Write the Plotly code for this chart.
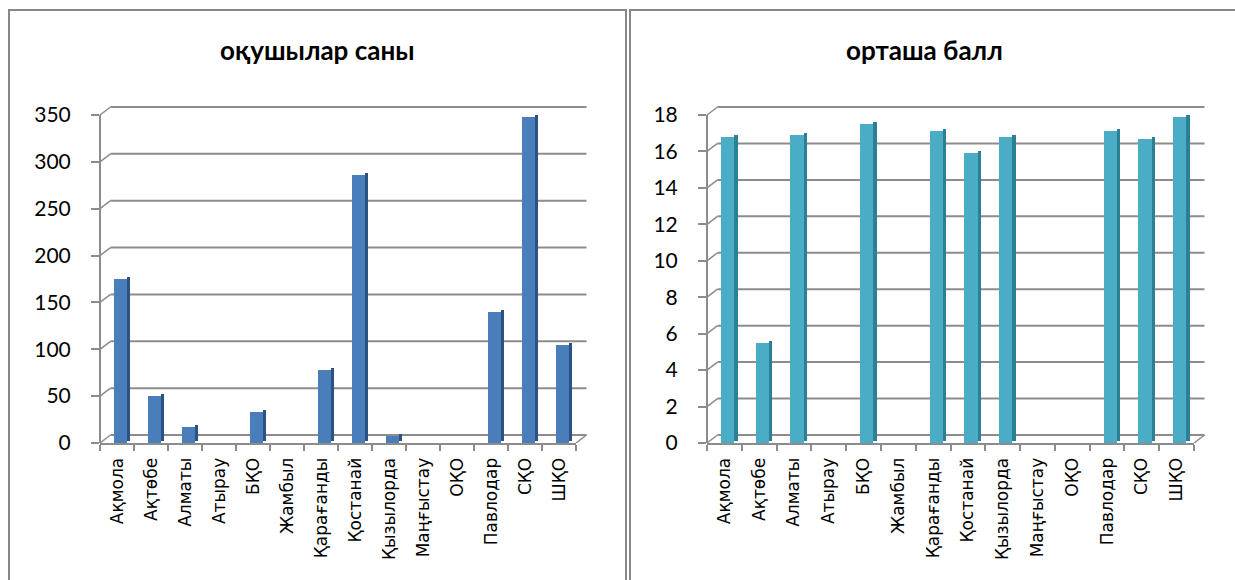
import plotly.graph_objects as go

regions = ["Ақмола", "Ақтөбе", "Алматы", "Атырау", "БҚО", "Жамбыл", "Қарағанды",
           "Қостанай", "Қызылорда", "Маңғыстау", "ОҚО", "Павлодар", "СҚО", "ШҚО"]
students = [175, 50, 17, 0, 33, 0, 78, 286, 8, 0, 0, 140, 348, 105]
avg_score = [16.8, 5.5, 16.9, 0, 17.5, 0, 17.1, 15.9, 16.8, 0, 0, 17.1, 16.7, 17.9]

title_left = "оқушылар саны"
title_right = "орташа балл"
y_ticks_left = [0, 50, 100, 150, 200, 250, 300, 350]
y_ticks_right = [0, 2, 4, 6, 8, 10, 12, 14, 16, 18]

W, H = 1235, 580
def px(x):
    return x / W
def py(y):
    return 1 - y / H

GRID = "#8c8c8c"
LX0, LX1 = 100, 576
RX0, RX1 = 707, 1194
YT, YB = 115, 443      # front plane: top tick / zero
EXTRA = 11             # room above the top tick for the back wall (px)
DEPTH_X, DEPTH_Y = 10.5, 8

fig = go.Figure()
shapes = []

def add_panel(values, ticks, rng, xa, ya, front, side, x0, x1):
    xn, yn = xa, ya
    lift = rng * 0.006
    fig.add_trace(go.Bar(x=regions, y=values, base=[lift if v > 0 else 0 for v in values],
                         width=0.1, offset=0.28, marker=dict(color=side, line=dict(width=0)),
                         xaxis=xa, yaxis=ya, showlegend=False, hoverinfo="skip"))
    fig.add_trace(go.Bar(x=regions, y=values, width=0.38, offset=-0.1,
                         marker=dict(color=front, line=dict(width=0)),
                         xaxis=xa, yaxis=ya, showlegend=False))
    dx = DEPTH_X / (x1 - x0)
    dy = DEPTH_Y / (YB - YT) * rng
    for t in ticks:
        shapes.append(dict(type="line", xref=xn + " domain", yref=yn, x0=dx, x1=1 + dx,
                           y0=t + dy, y1=t + dy, layer="below", line=dict(color=GRID, width=2)))
        shapes.append(dict(type="line", xref=xn + " domain", yref=yn, x0=0, x1=dx,
                           y0=t, y1=t + dy, layer="below", line=dict(color=GRID, width=1.5)))
    shapes.append(dict(type="line", xref=xn + " domain", yref=yn, x0=1, x1=1 + dx,
                       y0=0, y1=dy, layer="below", line=dict(color=GRID, width=1.5)))
    # front vertical axis line (zero to top tick)
    shapes.append(dict(type="line", xref=xn + " domain", yref=yn, x0=0, x1=0,
                       y0=0, y1=ticks[-1], layer="below", line=dict(color=GRID, width=2)))
    return rng * (1 + EXTRA / (YB - YT))

top_l = add_panel(students, y_ticks_left, 350, "x", "y", "#4A7EBB", "#2C5183", LX0, LX1)
top_r = add_panel(avg_score, y_ticks_right, 18, "x2", "y2", "#4BACC6", "#2C7F94", RX0, RX1)

yax = dict(showgrid=False, showline=False, ticks="outside",
           ticklen=8, tickcolor=GRID, tickwidth=1.5, zeroline=False,
           tickfont=dict(family="Lato, Open Sans, sans-serif", size=21, color="#000"),
           ticklabelstandoff=16)
xax = dict(type="category", showgrid=False, showline=True, linecolor=GRID,
           linewidth=2, ticks="outside", ticklen=6, tickcolor=GRID, tickwidth=1.5,
           tickson="boundaries", tickangle=-90, ticklabelstandoff=6,
           tickfont=dict(family="DejaVu Sans, Arial, sans-serif", size=17, color="#000"))

shapes += [
    dict(type="rect", xref="paper", yref="paper", x0=px(9), x1=px(626), y0=py(592), y1=py(10),
         line=dict(color="#878787", width=2)),
    dict(type="rect", xref="paper", yref="paper", x0=px(630), x1=px(1247), y0=py(592), y1=py(10),
         line=dict(color="#878787", width=2)),
]

tfont = dict(family="Lato, Open Sans, sans-serif", size=26, color="#000")
fig.update_layout(
    width=W, height=H, autosize=False,
    margin=dict(l=0, r=0, t=0, b=0, pad=0, autoexpand=False),
    paper_bgcolor="white", plot_bgcolor="rgba(0,0,0,0)", barmode="overlay", bargap=0,
    xaxis=dict(domain=[px(LX0), px(LX1)], anchor="y", **xax),
    yaxis=dict(domain=[py(YB), py(YT - EXTRA)], anchor="x", range=[0, top_l],
               tickvals=y_ticks_left, **yax),
    xaxis2=dict(domain=[px(RX0), px(RX1)], anchor="y2", **xax),
    yaxis2=dict(domain=[py(YB), py(YT - EXTRA)], anchor="x2", range=[0, top_r],
                tickvals=y_ticks_right, **yax),
    shapes=shapes,
    annotations=[
        dict(text="<b>" + title_left + "</b>", xref="paper", yref="paper", x=px(317), y=py(50),
             xanchor="center", yanchor="middle", showarrow=False, font=tfont),
        dict(text="<b>" + title_right + "</b>", xref="paper", yref="paper", x=px(924), y=py(50),
             xanchor="center", yanchor="middle", showarrow=False, font=tfont),
    ],
)

fig.write_html("out.html", config={"displayModeBar": False},
               post_script="document.body.style.margin='0';document.body.style.overflow='hidden';")
